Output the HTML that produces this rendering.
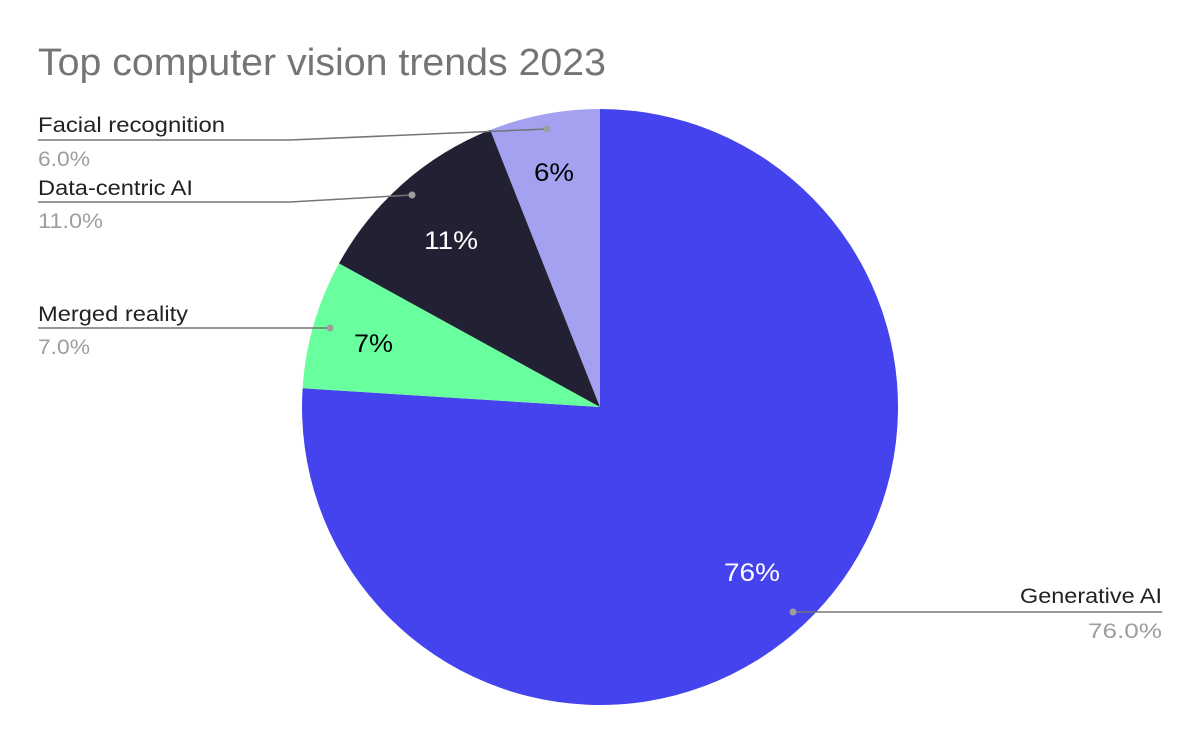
<!DOCTYPE html>
<html><head><meta charset="utf-8"><style>
body{margin:0;background:#fff;}
svg{display:block;font-family:"Liberation Sans",Arial,sans-serif;}
</style></head><body>
<svg width="1200" height="742" viewBox="0 0 1200 742">
<rect width="1200" height="742" fill="#fff"/>
<text x="38" y="75" font-size="38" fill="#757575" textLength="568" lengthAdjust="spacingAndGlyphs">Top computer vision trends 2023</text>
<g>
<path d="M600,407 L600,109 A298,298 0 1 1 302.6,388.3 Z" fill="#4543ee"/>
<path d="M600,407 L302.6,388.3 A298,298 0 0 1 339,263.4 Z" fill="#69ff9e"/>
<path d="M600,407 L339,263.4 A298,298 0 0 1 490.3,129.9 Z" fill="#222133"/>
<path d="M600,407 L490.3,129.9 A298,298 0 0 1 600,109 Z" fill="#a3a1f0"/>
</g>
<g font-size="25" lengthAdjust="spacingAndGlyphs">
<text x="534" y="181" fill="#000" textLength="40" lengthAdjust="spacingAndGlyphs">6%</text>
<text x="424" y="249" fill="#fff" textLength="54" lengthAdjust="spacingAndGlyphs">11%</text>
<text x="354" y="352" fill="#000" textLength="39" lengthAdjust="spacingAndGlyphs">7%</text>
<text x="724" y="581" fill="#fff" textLength="56" lengthAdjust="spacingAndGlyphs">76%</text>
</g>
<g stroke="#757575" stroke-width="1.5" fill="none">
<polyline points="38,140 290,140 547,129"/>
<polyline points="38,202 290,202 412,195"/>
<polyline points="38,328 330,328"/>
<polyline points="793,612 1162,612"/>
</g>
<g fill="#9e9e9e">
<circle cx="547" cy="129" r="3.5"/><circle cx="412" cy="195" r="3.5"/><circle cx="330" cy="328" r="3.5"/><circle cx="793" cy="612" r="3.5"/>
</g>
<g font-size="21">
<text x="38" y="132" fill="#222" textLength="187" lengthAdjust="spacingAndGlyphs">Facial recognition</text>
<text x="38" y="166" fill="#9e9e9e" textLength="52" lengthAdjust="spacingAndGlyphs">6.0%</text>
<text x="38" y="195" fill="#222" textLength="155" lengthAdjust="spacingAndGlyphs">Data-centric AI</text>
<text x="38" y="228" fill="#9e9e9e" textLength="65" lengthAdjust="spacingAndGlyphs">11.0%</text>
<text x="38" y="321" fill="#222" textLength="150" lengthAdjust="spacingAndGlyphs">Merged reality</text>
<text x="38" y="354" fill="#9e9e9e" textLength="52" lengthAdjust="spacingAndGlyphs">7.0%</text>
<text x="1020" y="603" fill="#222" textLength="142" lengthAdjust="spacingAndGlyphs">Generative AI</text>
<text x="1088" y="638" fill="#9e9e9e" textLength="74" lengthAdjust="spacingAndGlyphs">76.0%</text>
</g>
</svg>
</body></html>
